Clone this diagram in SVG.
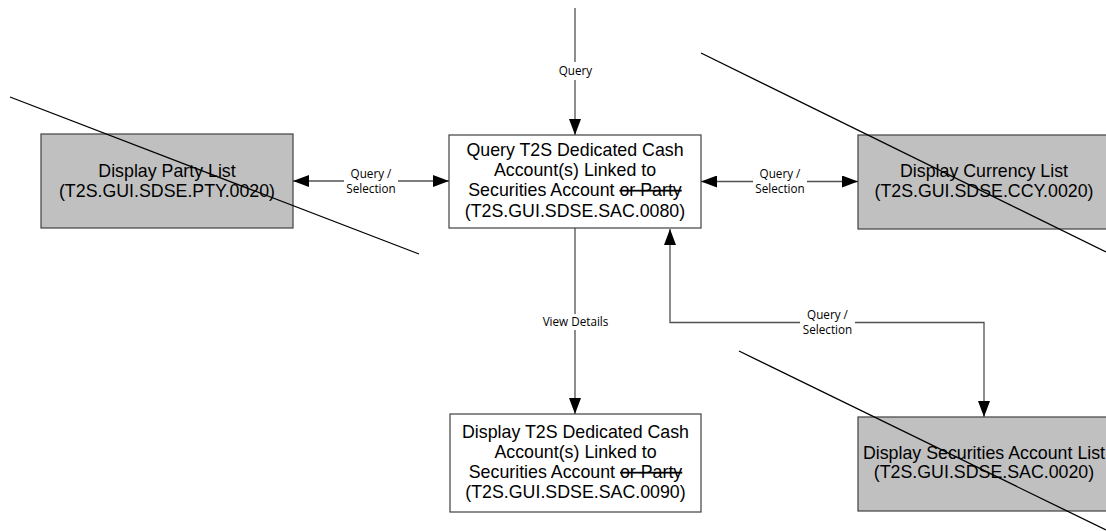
<svg xmlns="http://www.w3.org/2000/svg" width="1106" height="531" viewBox="0 0 1106 531">
<defs>
<marker id="arr" viewBox="0 0 16 12" refX="16" refY="6" markerWidth="16" markerHeight="12" markerUnits="userSpaceOnUse" orient="auto-start-reverse">
<path d="M0,0 L16,6 L0,12 Z" fill="#000"/>
</marker>
<style>
.box{stroke:#404040;stroke-width:1.2}
.w{fill:#fff}
.g{fill:#c0c0c0}
.t{font-family:"Liberation Sans",Arial,sans-serif;font-size:17.8px;fill:#000;text-anchor:middle}
.s{text-decoration:line-through}
.c{fill:none;stroke:#505050;stroke-width:1.3}
.l{font-family:"Open Sans","Noto Sans",sans-serif;font-size:11.7px;fill:#000;text-anchor:middle}
.bg{fill:#fff}
.x{stroke:#000;stroke-width:1.3;fill:none}
</style>
</defs>
<rect width="1106" height="531" fill="#fff"/>
<g id="connectors">
<line class="c" x1="575" y1="8" x2="575" y2="135" marker-end="url(#arr)"/>
<line class="c" x1="293" y1="181" x2="449" y2="181" marker-start="url(#arr)" marker-end="url(#arr)"/>
<line class="c" x1="701" y1="181.5" x2="858" y2="181.5" marker-start="url(#arr)" marker-end="url(#arr)"/>
<line class="c" x1="575" y1="228" x2="575" y2="414" marker-end="url(#arr)"/>
<polyline class="c" points="984,417 984,322.5 670,322.5 670,229" marker-start="url(#arr)" marker-end="url(#arr)"/>
<rect class="bg" x="553" y="62" width="45" height="18"/>
<text class="l" x="575.5" y="75">Query</text>
<rect class="bg" x="344" y="168" width="54" height="28"/>
<text class="l" x="371" y="178">Query /</text>
<text class="l" x="371" y="192.5">Selection</text>
<rect class="bg" x="753" y="168" width="54" height="28"/>
<text class="l" x="780" y="178">Query /</text>
<text class="l" x="780" y="192.5">Selection</text>
<rect class="bg" x="541" y="314" width="70" height="16"/>
<text class="l" x="575.5" y="326">View Details</text>
<rect class="bg" x="800" y="309" width="55" height="28"/>
<text class="l" x="827.5" y="319">Query /</text>
<text class="l" x="827.5" y="334">Selection</text>
</g>
<g id="party">
<rect class="box g" x="41" y="134" width="252" height="94"/>
<text class="t" x="167" y="177">Display Party List</text>
<text class="t" x="167" y="197">(T2S.GUI.SDSE.PTY.0020)</text>
</g>
<g id="query">
<rect class="box w" x="449" y="135" width="252" height="93"/>
<text class="t" x="575" y="156">Query T2S Dedicated Cash</text>
<text class="t" x="575" y="176">Account(s) Linked to</text>
<text class="t" x="575" y="196">Securities Account <tspan class="s">or Party</tspan></text>
<text class="t" x="575" y="216.5">(T2S.GUI.SDSE.SAC.0080)</text>
</g>
<g id="currency">
<rect class="box g" x="858" y="135" width="252" height="94"/>
<text class="t" x="984" y="177">Display Currency List</text>
<text class="t" x="984" y="197">(T2S.GUI.SDSE.CCY.0020)</text>
</g>
<g id="display">
<rect class="box w" x="450" y="414" width="251" height="98"/>
<text class="t" x="575.5" y="438">Display T2S Dedicated Cash</text>
<text class="t" x="575.5" y="458">Account(s) Linked to</text>
<text class="t" x="575.5" y="478">Securities Account <tspan class="s">or Party</tspan></text>
<text class="t" x="575.5" y="498">(T2S.GUI.SDSE.SAC.0090)</text>
</g>
<g id="securities">
<rect class="box g" x="858" y="417" width="252" height="94"/>
<text class="t" x="984" y="459">Display Securities Account List</text>
<text class="t" x="984" y="478">(T2S.GUI.SDSE.SAC.0020)</text>
</g>
<g id="strike-lines">
<line class="x" x1="10" y1="97" x2="419" y2="254"/>
<line class="x" x1="701" y1="53" x2="1106" y2="252"/>
<line class="x" x1="739" y1="351" x2="1106" y2="530"/>
</g>
</svg>
